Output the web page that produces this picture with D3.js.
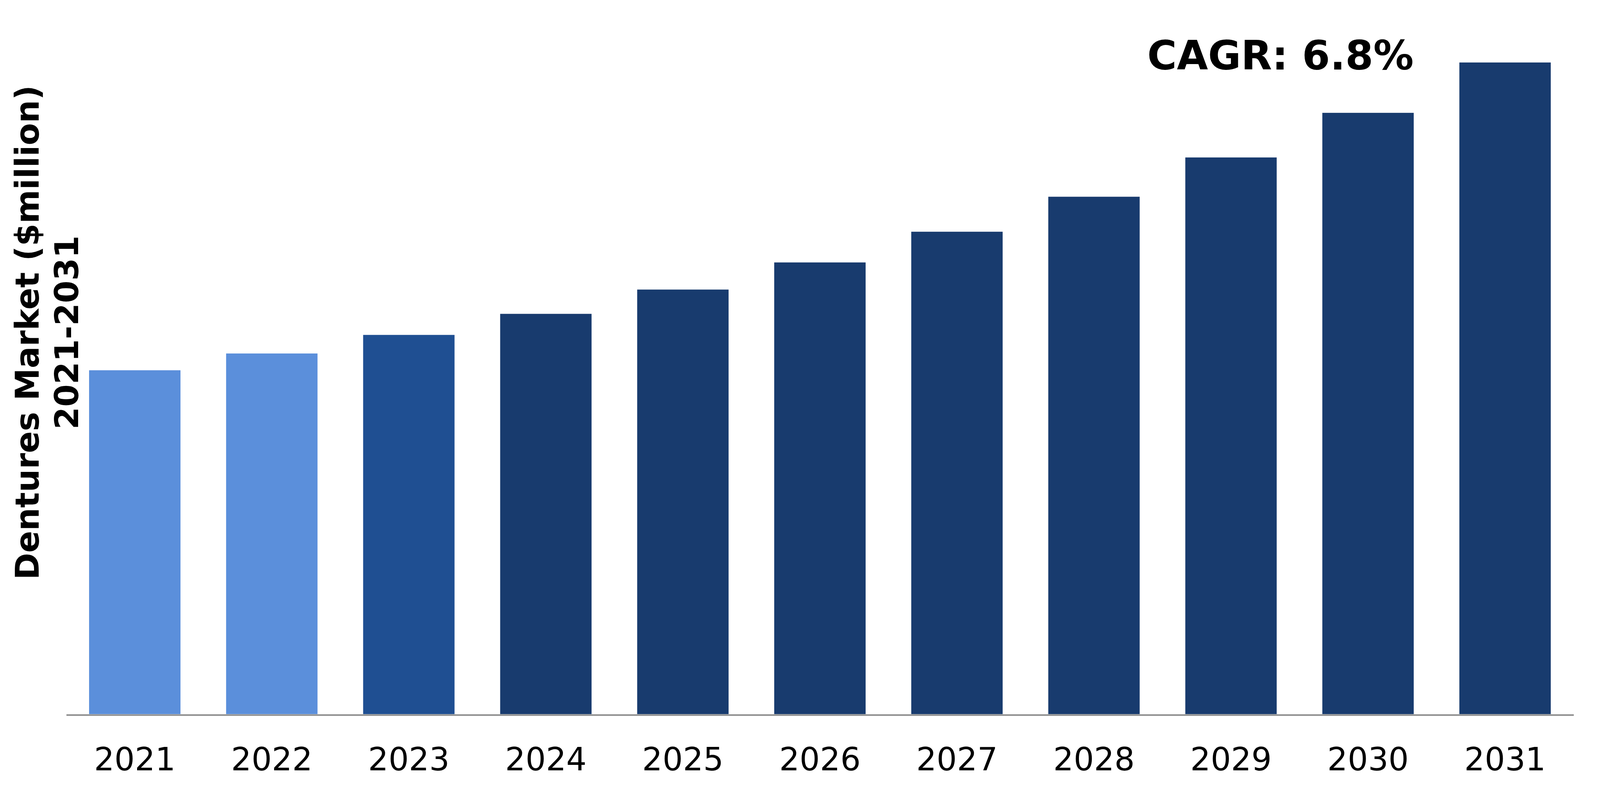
<!DOCTYPE html>
<html>
<head>
<meta charset="utf-8">
<script src="https://cdn.jsdelivr.net/npm/d3@7"></script>
<style>
  html, body { margin: 0; padding: 0; background: #fff; overflow: hidden; }
  svg { display: block; }
</style>
</head>
<body>
<svg></svg>
<script>
// market size, $million
const years = ["2021", "2022", "2023", "2024", "2025", "2026", "2027", "2028", "2029", "2030", "2031"];
const values = [963, 1010, 1062, 1121, 1189, 1265, 1351, 1449, 1559, 1684, 1825];
const barColors = ["#5b8fdb", "#5b8fdb", "#1f4f92", "#183b6e", "#183b6e", "#183b6e", "#183b6e", "#183b6e", "#183b6e", "#183b6e", "#183b6e"];
const titleLines = ["Dentures Market ($million)", "2021-2031"];
const cagrLabel = "CAGR: 6.8%";

const FONT = "'DejaVu Sans', Verdana, sans-serif";

// the chart fills whatever window it gets
var W = window.innerWidth,
    H = window.innerHeight;

var svg = d3.select("svg")
    .attr("width", W)
    .attr("height", H),
    margin = {top: 0, right: W * 0.0165, bottom: H * 0.0995, left: W * 0.0414},
    width = W - margin.left - margin.right,
    height = H - margin.top - margin.bottom,
    g = svg.append("g").attr("transform", "translate(" + margin.left + "," + margin.top + ")");

var data = years.map((year, i) => ({ year, value: values[i], color: barColors[i] }));

var x = d3.scaleBand()
    .domain(years)
    .range([0, width])
    .paddingInner(0.333)
    .paddingOuter(0.1667);

var y = d3.scaleLinear()
    .domain([0, 2000])
    .range([height, 0]);

g.append("g")
  .selectAll("rect")
  .data(data)
  .enter().append("rect")
    .attr("x", d => x(d.year))
    .attr("y", d => y(d.value))
    .attr("width", x.bandwidth())
    .attr("height", d => height - y(d.value))
    .attr("fill", d => d.color);

var xAxis = g.append("g")
    .attr("transform", "translate(0," + (height + 2) + ")")
    .call(d3.axisBottom(x).tickSize(0).tickPadding(84));

xAxis.select(".domain")
    .attr("stroke", "#8c8c8c")
    .attr("stroke-width", 4);

xAxis.selectAll("text")
    .attr("font-family", FONT)
    .attr("font-size", 82)
    .attr("fill", "#000");

// rotated y title, two lines
var title = svg.append("text")
    .attr("transform", "translate(99," + (height * 0.4655) + ") rotate(-90)")
    .attr("text-anchor", "middle")
    .attr("font-family", FONT)
    .attr("font-weight", "bold")
    .attr("font-size", 83)
    .attr("fill", "#000");

title.selectAll("tspan")
  .data(titleLines)
  .enter().append("tspan")
    .attr("x", 0)
    .attr("y", (d, i) => i * 101)
    .text(d => d);

svg.append("text")
    .attr("x", W * 0.8003)
    .attr("y", 178)
    .attr("text-anchor", "middle")
    .attr("font-family", FONT)
    .attr("font-weight", "bold")
    .attr("font-size", 103)
    .attr("fill", "#000")
    .text(cagrLabel);
</script>
</body>
</html>
